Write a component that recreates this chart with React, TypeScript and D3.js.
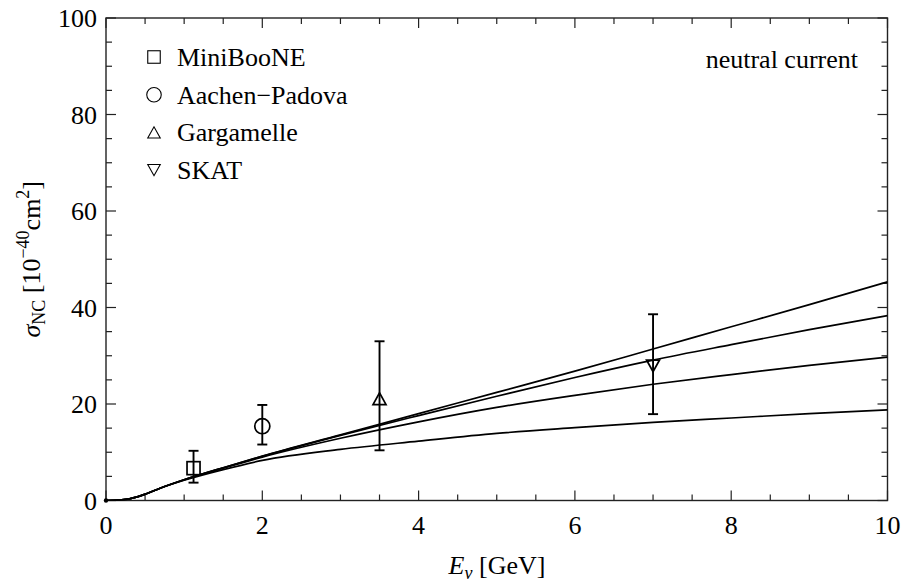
import React from "react";
import * as d3 from "d3";

const energy = [0, 0.1, 0.2, 0.3, 0.4, 0.5, 0.7, 1, 1.5, 2, 3, 4, 5, 6, 7, 8, 9, 10];
const curve1 = [0, 0.02, 0.12, 0.35, 0.75, 1.3, 2.6, 4.3, 6.8, 9.2, 13.6, 18.0, 22.4, 26.8, 31.4, 36.0, 40.6, 45.3];
const curve2 = [0, 0.02, 0.12, 0.35, 0.75, 1.3, 2.6, 4.3, 6.8, 9.15, 13.5, 17.6, 21.6, 25.5, 29.1, 32.3, 35.4, 38.3];
const curve3 = [0, 0.02, 0.12, 0.35, 0.75, 1.3, 2.6, 4.3, 6.7, 9.0, 12.9, 16.3, 19.3, 21.8, 24.1, 26.1, 28.0, 29.7];
const curve4 = [0, 0.02, 0.12, 0.35, 0.75, 1.3, 2.6, 4.2, 6.4, 8.3, 10.6, 12.3, 13.9, 15.1, 16.2, 17.1, 18.0, 18.8];
const curves = [curve1, curve2, curve3, curve4];

const experiments = ["MiniBooNE", "Aachen\u2212Padova", "Gargamelle", "SKAT"];
const markerKinds = ["square", "circle", "up", "down"];
const expE = [1.12, 2.0, 3.5, 7.0];
const expSigma = [6.7, 15.4, 21.1, 27.9];
const expLow = [3.7, 11.6, 10.4, 17.9];
const expHigh = [10.3, 19.8, 33.0, 38.6];

const xMajor = [0, 2, 4, 6, 8, 10];
const yMajor = [0, 20, 40, 60, 80, 100];
const xMinor = d3.range(0, 10.001, 0.5);
const yMinor = d3.range(0, 100.001, 5);

const W = 902;
const H = 583;
const FONT = "Liberation Serif";

function Marker({ kind, cx, cy, s, sw }: { kind: string; cx: number; cy: number; s: number; sw: number }) {
  if (kind === "square")
    return <rect x={cx - s / 2} y={cy - s / 2} width={s} height={s} fill="none" stroke="#000" strokeWidth={sw} />;
  if (kind === "circle") return <circle cx={cx} cy={cy} r={s * 0.58} fill="none" stroke="#000" strokeWidth={sw} />;
  const h = s * 0.9;
  const w = s;
  if (kind === "up")
    return (
      <polygon
        points={`${cx - w / 2},${cy + h / 2} ${cx + w / 2},${cy + h / 2} ${cx},${cy - h / 2}`}
        fill="none"
        stroke="#000"
        strokeWidth={sw}
      />
    );
  return (
    <polygon
      points={`${cx - w / 2},${cy - h / 2} ${cx + w / 2},${cy - h / 2} ${cx},${cy + h / 2}`}
      fill="none"
      stroke="#000"
      strokeWidth={sw}
    />
  );
}

export default function App() {
  const x = d3.scaleLinear().domain([0, 10]).range([106, 887.5]);
  const y = d3.scaleLinear().domain([0, 100]).range([500.5, 18]);
  const line = d3
    .line<number>()
    .x((_, i) => x(energy[i]))
    .y((d) => y(d))
    .curve(d3.curveMonotoneX);

  const [x0, x1] = x.range();
  const [y0, y1] = y.range();
  const majorLen = 10;
  const minorLen = 6;
  const ts = { fontFamily: FONT };

  return (
    <svg width={W} height={H} style={{ position: "absolute", left: 0, top: 0, background: "#fff", fontFamily: FONT }}>
      <rect x={0} y={0} width={W} height={H} fill="#fff" />
      <rect x={x0} y={y1} width={x1 - x0} height={y0 - y1} fill="none" stroke="#222" strokeWidth={1.4} />
      {xMinor.map((v) => {
        const len = xMajor.includes(v) ? majorLen : minorLen;
        return (
          <g key={"xt" + v}>
            <line x1={x(v)} x2={x(v)} y1={y0} y2={y0 - len} stroke="#222" strokeWidth={1.2} />
            <line x1={x(v)} x2={x(v)} y1={y1} y2={y1 + len} stroke="#222" strokeWidth={1.2} />
          </g>
        );
      })}
      {yMinor.map((v) => {
        const len = yMajor.includes(v) ? majorLen : minorLen;
        return (
          <g key={"yt" + v}>
            <line x1={x0} x2={x0 + len} y1={y(v)} y2={y(v)} stroke="#222" strokeWidth={1.2} />
            <line x1={x1} x2={x1 - len} y1={y(v)} y2={y(v)} stroke="#222" strokeWidth={1.2} />
          </g>
        );
      })}
      {xMajor.map((v) => (
        <text key={"xl" + v} x={x(v)} y={534} textAnchor="middle" fontSize={26} style={ts}>
          {v}
        </text>
      ))}
      {yMajor.map((v) => (
        <text key={"yl" + v} x={97} y={y(v) + 9} textAnchor="end" fontSize={26} style={ts}>
          {v}
        </text>
      ))}
      <defs>
        <clipPath id="clip">
          <rect x={x0} y={y1} width={x1 - x0} height={y0 - y1} />
        </clipPath>
      </defs>
      <g clipPath="url(#clip)">
        {curves.map((c, i) => (
          <path key={"c" + i} d={line(c) || ""} fill="none" stroke="#000" strokeWidth={1.7} />
        ))}
      </g>
      <circle cx={x(0)} cy={y(0)} r={2.2} fill="#000" />
      {expE.map((e, i) => (
        <g key={"d" + i}>
          <line x1={x(e)} x2={x(e)} y1={y(expLow[i])} y2={y(expHigh[i])} stroke="#000" strokeWidth={1.9} />
          <line x1={x(e) - 5} x2={x(e) + 5} y1={y(expLow[i])} y2={y(expLow[i])} stroke="#000" strokeWidth={1.9} />
          <line x1={x(e) - 5} x2={x(e) + 5} y1={y(expHigh[i])} y2={y(expHigh[i])} stroke="#000" strokeWidth={1.9} />
          <Marker kind={markerKinds[i]} cx={x(e)} cy={y(expSigma[i])} s={13} sw={1.7} />
        </g>
      ))}
      {experiments.map((name, i) => {
        const base = 66 + i * 37.7;
        return (
          <g key={"lg" + i}>
            <Marker kind={markerKinds[i]} cx={154} cy={base - 9} s={12.5} sw={1.1} />
            <text x={177} y={base} fontSize={26} style={ts}>
              {name}
            </text>
          </g>
        );
      })}
      <text x={858} y={68} textAnchor="end" fontSize={26} style={ts}>
        neutral current
      </text>
      <text x={497} y={574} textAnchor="middle" fontSize={26} style={ts}>
        <tspan fontStyle="italic">E</tspan>
        <tspan fontStyle="italic" fontSize={18} dy={5}>
          ν
        </tspan>
        <tspan dy={-5}> [GeV]</tspan>
      </text>
      <text
        transform={`translate(40, ${(y0 + y1) / 2}) rotate(-90)`}
        textAnchor="middle"
        fontSize={26}
        style={ts}
      >
        <tspan fontStyle="italic">σ</tspan>
        <tspan fontSize={18} dy={5}>
          NC
        </tspan>
        <tspan dy={-5}> [10</tspan>
        <tspan fontSize={18} dy={-11}>
          −40
        </tspan>
        <tspan dy={11}>cm</tspan>
        <tspan fontSize={18} dy={-11}>
          2
        </tspan>
        <tspan dy={11}>]</tspan>
      </text>
    </svg>
  );
}
